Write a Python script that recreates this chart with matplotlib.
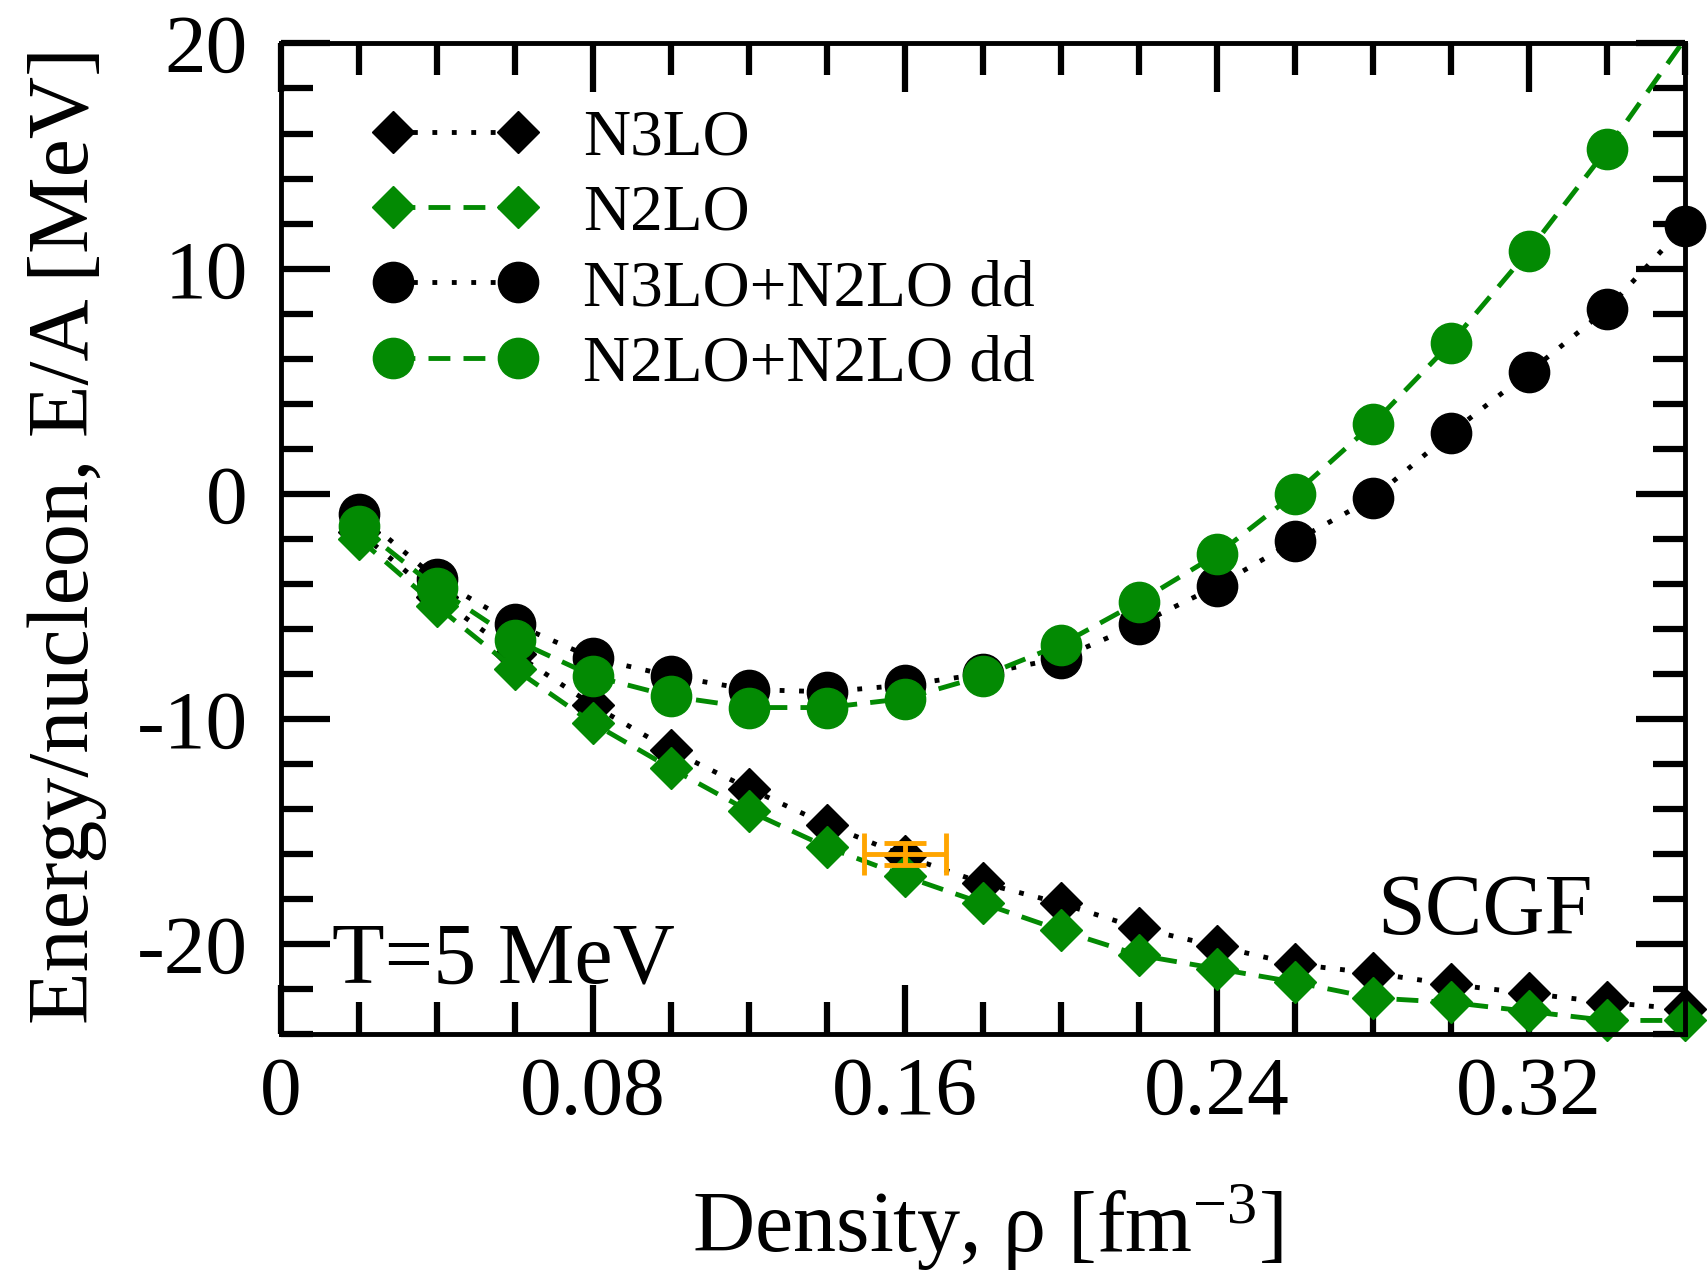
## SCGF energy per nucleon at T=5 MeV
import matplotlib
matplotlib.use("Agg")
import matplotlib.pyplot as plt
import numpy as np
from matplotlib.ticker import MultipleLocator

plt.rcParams['font.family'] = ['Liberation Serif', 'DejaVu Serif']
plt.rcParams['mathtext.fontset'] = 'custom'
plt.rcParams['mathtext.rm'] = 'Liberation Serif'
plt.rcParams['mathtext.it'] = 'Liberation Serif:italic'
plt.rcParams['axes.unicode_minus'] = False

## Data
density = [0.02, 0.04, 0.06, 0.08, 0.10, 0.12, 0.14, 0.16, 0.18,
           0.20, 0.22, 0.24, 0.26, 0.28, 0.30, 0.32, 0.34, 0.36]
n3lo = [-1.7, -4.6, -7.1, -9.4, -11.4, -13.1, -14.7, -16.1, -17.3,
        -18.2, -19.3, -20.1, -20.9, -21.3, -21.8, -22.2, -22.6, -22.9]
n2lo = [-2.0, -5.0, -7.8, -10.2, -12.2, -14.1, -15.7, -17.0, -18.2,
        -19.4, -20.5, -21.1, -21.7, -22.4, -22.6, -23.0, -23.4, -23.4]
n3lo_dd = [-0.9, -3.8, -5.8, -7.3, -8.1, -8.7, -8.8, -8.5, -8.0,
           -7.3, -5.8, -4.1, -2.1, -0.2, 2.7, 5.4, 8.2, 11.9]
n2lo_dd = [-1.45, -4.2, -6.5, -8.1, -9.0, -9.5, -9.5, -9.1, -8.1,
           -6.7, -4.8, -2.7, 0.0, 3.1, 6.7, 10.8, 15.3, 20.2]

## Empirical saturation point
sat_rho = 0.16
sat_e = -16.0
sat_rho_err = 0.0105
sat_e_err = 0.5

xtick_vals = [0, 0.08, 0.16, 0.24, 0.32]
xtick_labels = ['0', '0.08', '0.16', '0.24', '0.32']
ytick_vals = [-20, -10, 0, 10, 20]

green = '#038a03'
xmin, xmax = 0, 0.36
ymin, ymax = -24, 20

fig = plt.figure(figsize=(17.07, 12.71), dpi=100)
ax = fig.add_axes([0.1646, 0.1865, 0.8225, 0.7793])

dotted = (0, (1, 3))
dashed = (0, (4.5, 2.7))
series = [
    (n3lo, 'k', dotted, 'D', 21, 'N3LO'),
    (n2lo, green, dashed, 'D', 21, 'N2LO'),
    (n3lo_dd, 'k', dotted, 'o', 29, 'N3LO+N2LO dd'),
    (n2lo_dd, green, dashed, 'o', 29, 'N2LO+N2LO dd'),
]
rho = np.array(density)
for vals, col, ls, mk, ms, lab in series:
    y = np.array(vals)
    ax.plot(rho, y, color=col, linestyle=ls, linewidth=3.5)
    inside = y <= ymax
    ax.plot(rho[inside], y[inside], linestyle='none', marker=mk, markersize=ms,
            color=col, clip_on=False)
    # legend proxy
    ax.plot([], [], color=col, linestyle=ls, linewidth=3.5, marker=mk,
            markersize=ms, label=lab)

ax.errorbar([sat_rho], [sat_e], xerr=[sat_rho_err], yerr=[sat_e_err],
            color='orange', linewidth=3.5, capsize=15, capthick=3.5,
            linestyle='none', zorder=5)

ax.set_xlim(xmin, xmax)
ax.set_ylim(ymin, ymax)
ax.set_xticks(xtick_vals, xtick_labels)
ax.set_yticks(ytick_vals)
ax.xaxis.set_minor_locator(MultipleLocator(0.02))
ax.yaxis.set_minor_locator(MultipleLocator(2))
ax.tick_params(which='both', direction='in', top=True, right=True, width=4.5)
ax.tick_params(which='major', length=35, labelsize=60)
ax.tick_params(axis='x', which='major', pad=16)
ax.tick_params(axis='y', which='major', pad=24)
ax.tick_params(which='minor', length=23)
for sp in ax.spines.values():
    sp.set_linewidth(3.5)

ax.set_xlabel('Density, ρ [fm$^{-3}$]', fontsize=62, va='baseline')
ax.xaxis.set_label_coords(0.503, -0.220)
ax.set_ylabel('Energy/nucleon, E/A [MeV]', fontsize=62, va='baseline')
ax.yaxis.set_label_coords(-0.1375, 0.503)

ax.text(0.036, 0.0515, 'T=5 MeV', transform=ax.transAxes, fontsize=62,
        va='baseline', ha='left')
ax.text(0.781, 0.101, 'SCGF', transform=ax.transAxes, fontsize=62,
        va='baseline', ha='left')

ax.legend(loc='upper left', bbox_to_anchor=(0.0655, 0.934), frameon=False,
          fontsize=47, numpoints=2, handlelength=2.52, handletextpad=0.7,
          labelspacing=0.24, borderpad=0, borderaxespad=0)

fig.savefig('out.png', dpi=100)
